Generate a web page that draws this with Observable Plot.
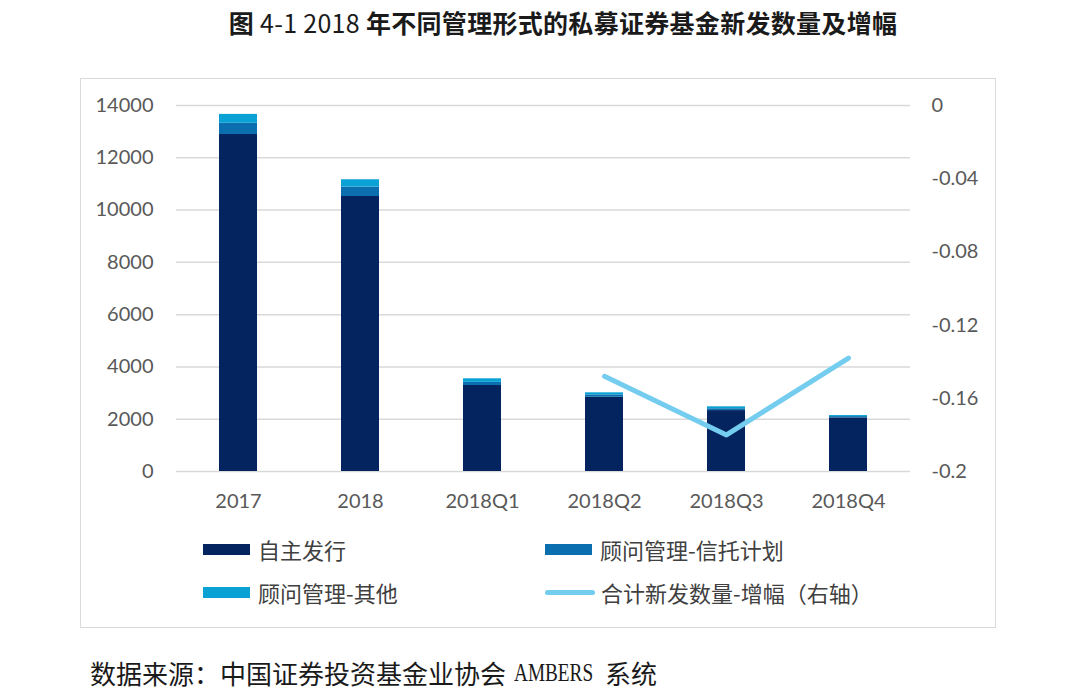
<!DOCTYPE html>
<html>
<head>
<meta charset="utf-8">
<script src="https://cdn.jsdelivr.net/npm/d3@7"></script>
<script src="https://cdn.jsdelivr.net/npm/@observablehq/plot@0.6"></script>
<style>
  html, body { margin: 0; padding: 0; background: #fff; }
  body { width: 1080px; height: 700px; position: relative; overflow: hidden; font-family: "Noto Sans CJK SC", sans-serif; }
  #title { position: absolute; left: 0; width: 1126px; top: 4px; text-align: center; font-size: 25px; font-weight: 700; color: #1a1a1a; font-family: "Noto Sans CJK SC", sans-serif; letter-spacing: 0.3px; }
  #title .num { font-weight: 400; font-family: "Liberation Sans Narrow", "Noto Sans CJK SC", sans-serif; }
  #box { position: absolute; left: 80px; top: 78px; width: 914px; height: 548px; border: 1.5px solid #d9d9d9; }
  .chart { position: absolute; left: 0; top: 80px; }
  .leg { position: absolute; display: flex; align-items: center; font-size: 22px; color: #404040; font-family: "Noto Sans CJK SC", sans-serif; }
  .sw { width: 47px; height: 11px; margin-right: 8px; }
  .ln { width: 50px; height: 5px; border-radius: 3px; margin-right: 6px; }
  #caption { position: absolute; left: 90px; top: 658px; height: 30px; line-height: 30px; font-size: 26px; color: #1a1a1a; font-family: "Noto Sans CJK SC", sans-serif; white-space: nowrap; display: flex; align-items: center; }
  #caption .lat { display: inline-block; width: 79px; margin-left: 8px; margin-right: 12px; overflow: visible; font-family: "Liberation Serif", serif; font-size: 26px; }
  #caption .lat span { display: inline-block; transform: scaleX(0.74); transform-origin: left center; }
</style>
</head>
<body>
<div id="title">图 <span class="num">4-1 2018</span> 年不同管理形式的私募证券基金新发数量及增幅</div>
<div id="box"></div>
<div id="bars" class="chart"></div>
<div id="line" class="chart"></div>
<div id="legend"></div>
<div id="caption"><span>数据来源：中国证券投资基金业协会</span><span class="lat"><span>AMBERS</span></span><span>系统</span></div>
<script>
const categories = ["2017", "2018", "2018Q1", "2018Q2", "2018Q3", "2018Q4"];
const seriesNames = ["自主发行", "顾问管理-信托计划", "顾问管理-其他"];
const selfIssued   = [12890, 10520, 3290, 2840, 2330, 2050];
const advisorTrust = [430, 360, 120, 90, 70, 50];
const advisorOther = [340, 280, 136, 80, 75, 40];
const growthCategories = ["2018Q2", "2018Q3", "2018Q4"];
const growthValues = [-0.148, -0.180, -0.138];
const lineName = "合计新发数量-增幅（右轴）";
const leftTicks = [0, 2000, 4000, 6000, 8000, 10000, 12000, 14000];
const rightTicks = [0, -0.04, -0.08, -0.12, -0.16, -0.2];

const colors = ["#03245e", "#0b6eae", "#0aa2d4"];
const lineColor = "#74cdee";

const stacked = [];
categories.forEach((c, i) => {
  [selfIssued, advisorTrust, advisorOther].forEach((arr, k) => {
    stacked.push({category: c, series: seriesNames[k], value: arr[i]});
  });
});
const growth = growthCategories.map((c, i) => ({category: c, growth: growthValues[i]}));

const W = 1080, H = 440, mt = 25, mb = 49, ml = 176, mr = 170;
const baseStyle = {fontFamily: "Lato, 'Open Sans', sans-serif", fontSize: "20px", color: "#595959", background: "transparent"};

const bars = Plot.plot({
  width: W, height: H, marginTop: mt, marginBottom: mb, marginLeft: ml, marginRight: mr,
  style: baseStyle,
  x: {type: "band", domain: categories, paddingInner: 0.686, paddingOuter: 0.343, axis: null},
  y: {domain: [0, 14000], axis: null},
  color: {domain: seriesNames, range: colors},
  marks: [
    Plot.gridY({ticks: leftTicks, stroke: "#d9d9d9", strokeOpacity: 1, strokeWidth: 1.5}),
    Plot.barY(stacked, {x: "category", y: "value", fill: "series", order: seriesNames}),
    Plot.axisY({ticks: leftTicks, tickSize: 0, tickPadding: 23, tickFormat: d3.format("d"), label: null}),
    Plot.axisX({tickSize: 0, tickPadding: 22, label: null})
  ]
});
document.getElementById("bars").appendChild(bars);

const line = Plot.plot({
  width: W, height: H, marginTop: mt, marginBottom: mb, marginLeft: ml, marginRight: mr,
  style: baseStyle,
  x: {type: "point", domain: categories, padding: 0.5, axis: null},
  y: {domain: [-0.2, 0], axis: null},
  marks: [
    Plot.line(growth, {x: "category", y: "growth", stroke: lineColor, strokeWidth: 5, strokeLinecap: "round", strokeLinejoin: "round"}),
    Plot.axisY({anchor: "right", ticks: rightTicks, tickSize: 0, tickPadding: 21, tickFormat: d => String(+d.toFixed(2)), label: null})
  ]
});
document.getElementById("line").appendChild(line);

const legendItems = [
  {label: seriesNames[0], color: colors[0], type: "bar", x: 203, y: 549},
  {label: seriesNames[1], color: colors[1], type: "bar", x: 545, y: 549},
  {label: seriesNames[2], color: colors[2], type: "bar", x: 203, y: 592},
  {label: lineName, color: lineColor, type: "line", x: 545, y: 592}
];
const legend = document.getElementById("legend");
legendItems.forEach(it => {
  const d = document.createElement("div");
  d.className = "leg";
  d.style.left = it.x + "px";
  d.style.top = (it.y - 16) + "px";
  d.style.height = "32px";
  const s = document.createElement("span");
  s.className = it.type === "bar" ? "sw" : "ln";
  s.style.background = it.color;
  const t = document.createElement("span");
  t.textContent = it.label;
  d.appendChild(s); d.appendChild(t);
  legend.appendChild(d);
});
</script>
</body>
</html>
